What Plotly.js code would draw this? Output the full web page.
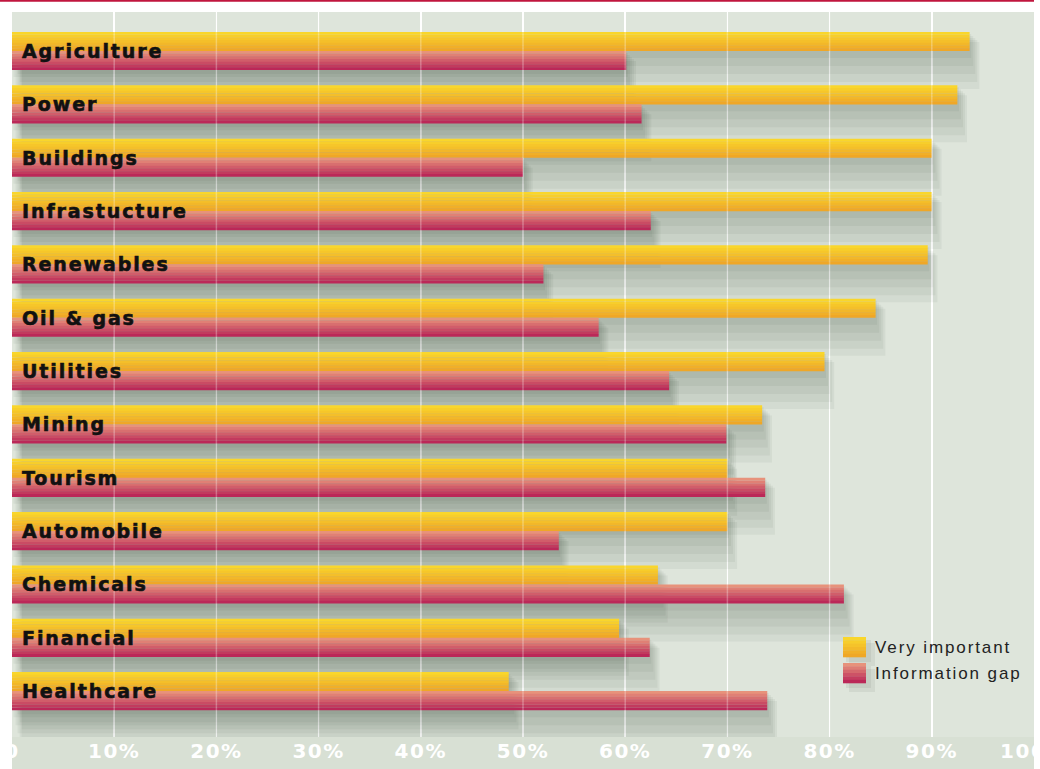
<!DOCTYPE html>
<html><head><meta charset="utf-8">
<script src="https://cdn.plot.ly/plotly-3.0.1.min.js"></script>
<style>
html,body{margin:0;padding:0;background:#fff;}
#chart{width:1040px;height:769px;}
.annotation-text{letter-spacing:1.9px;}
.annotation.cat .annotation-text{stroke:#111;stroke-width:0.6px;}
.xtick text{letter-spacing:1.5px;}
</style>
</head><body><div id="chart"></div>
<script>
const sectors = ["Agriculture","Power","Buildings","Infrastucture","Renewables","Oil & gas","Utilities","Mining","Tourism","Automobile","Chemicals","Financial","Healthcare"];
const veryImportant = [93.7,92.5,90.0,90.0,89.6,84.5,79.5,73.4,70.0,70.0,63.2,59.4,48.6];
const informationGap = [60.1,61.6,50.0,62.5,52.0,57.4,64.3,69.9,73.7,53.5,81.4,62.4,73.9];
const tickVals = [0,10,20,30,40,50,60,70,80,90,100];
const tickText = ["0","10%","20%","30%","40%","50%","60%","70%","80%","90%","100%"];
const seriesNames = ["Very important","Information gap"];

const PX = 1/53.33;          // one pixel in category units
const H = 19*PX;             // bar thickness
const N = 7;                 // gradient slices

function hex2rgb(h){return [1,3,5].map(i=>parseInt(h.substr(i,2),16));}
function mix(a,b,t){const A=hex2rgb(a),B=hex2rgb(b);return 'rgb('+A.map((v,i)=>Math.round(v+(B[i]-v)*t)).join(',')+')';}
const grad = {
  "Very important":['#f9d62c','#efa727'],
  "Information gap":['#e7927b','#bb2858']
};

const traces = [];
// soft shadows
const sh = [[2,5,0.15],[4,11,0.35],[6,17,0.55],[8,23,0.75],[10,28,0.95]];
function shadow(vals, off){
  sh.forEach(([o,w,b])=>{
    traces.push({type:'bar', orientation:'h', y:sectors, x:vals, base:b,
      offset: off + o*PX, width: H + w*PX,
      marker:{color:'rgba(40,55,40,0.055)', line:{width:0}}, showlegend:false, hoverinfo:'skip'});
  });
}
shadow(veryImportant, -H);
shadow(informationGap, 0);
// gradient bars
function bars(vals, name, off){
  const g = grad[name];
  for(let k=0;k<N;k++){
    traces.push({type:'bar', orientation:'h', name:name, y:sectors, x:vals,
      offset: off + k*H/N, width: H/N + 0.003,
      marker:{color:mix(g[0],g[1],k/(N-1)), line:{width:0}},
      showlegend:false, hoverinfo:'x+y'});
  }
}
bars(veryImportant, seriesNames[0], -H);
bars(informationGap, seriesNames[1], 0);

const annotations = sectors.map(s => ({
  x:0, y:s, xref:'x', yref:'y', text:s, showarrow:false,
  xanchor:'left', yanchor:'middle', xshift:8, yshift:0,
  font:{family:'DejaVu Sans, Liberation Sans, sans-serif', size:19, color:'#111', weight:'bold'}
}));

const shapes = [
  {type:'rect', xref:'paper', yref:'paper', x0:0, x1:1, y0:-0.045, y1:0, fillcolor:'#d8e0d4', line:{width:0}, layer:'below'},
  {type:'line', xref:'paper', yref:'paper', x0:-0.012, x1:1, y0:1.0155, y1:1.0155, line:{color:'#c0163e', width:2}}
];
// faint gridlines over bars
tickVals.slice(1,-1).forEach(v=>shapes.push({type:'line', xref:'x', yref:'paper', x0:v, x1:v, y0:0, y1:1,
  line:{color:'rgba(255,255,255,0.28)', width:1.5}, layer:'above'}));

// manual legend with gradient swatches
function px2x(p){return (p-12)/1022;}
function py2y(p){return 1-(p-12)/725;}
const legTop=[637,663];
seriesNames.forEach((name,i)=>{
  const g=grad[name];
  [[3,5],[6,9]].forEach(([d,e])=>shapes.push({type:'rect', xref:'paper', yref:'paper', x0:px2x(843+d), x1:px2x(866+e), y0:py2y(legTop[i]+20+e), y1:py2y(legTop[i]+d),
    fillcolor:'rgba(40,55,40,0.07)', line:{width:0}}));
  for(let k=0;k<6;k++){
    shapes.push({type:'rect', xref:'paper', yref:'paper', x0:px2x(843), x1:px2x(866),
      y0:py2y(legTop[i]+(k+1)*20/6+0.3), y1:py2y(legTop[i]+k*20/6),
      fillcolor:mix(g[0],g[1],k/5), line:{width:0}});
  }
  annotations.push({xref:'paper', yref:'paper', x:px2x(873), y:py2y(legTop[i]+10), text:name, showarrow:false,
    xanchor:'left', yanchor:'middle', font:{family:'Liberation Sans, Arial, sans-serif', size:17, color:'#222'}});
});

const layout = {
  width:1040, height:769,
  margin:{l:12, r:6, t:12, b:32, pad:0},
  paper_bgcolor:'#ffffff',
  plot_bgcolor:'#dee5db',
  barmode:'overlay',
  showlegend:false,
  xaxis:{range:[0,100], tickvals:tickVals, ticktext:tickText, showgrid:true,
    gridcolor:'#ffffff', gridwidth:1.5, zeroline:false, showline:false, ticklabeloverflow:'allow',
    ticks:'', tickfont:{family:'DejaVu Sans, sans-serif', size:20, color:'#ffffff', weight:'bold'},
    fixedrange:true},
  yaxis:{type:'category', range:[12.86,-0.73], showticklabels:false, showgrid:false,
    zeroline:false, showline:false, ticks:'', fixedrange:true},
  shapes:shapes,
  annotations:annotations
};
Plotly.newPlot('chart', traces, layout, {displayModeBar:false, staticPlot:true}).then(()=>{
  document.querySelectorAll('.annotation').forEach((g,i)=>{ if(i<sectors.length) g.classList.add('cat'); });
});
</script></body></html>
